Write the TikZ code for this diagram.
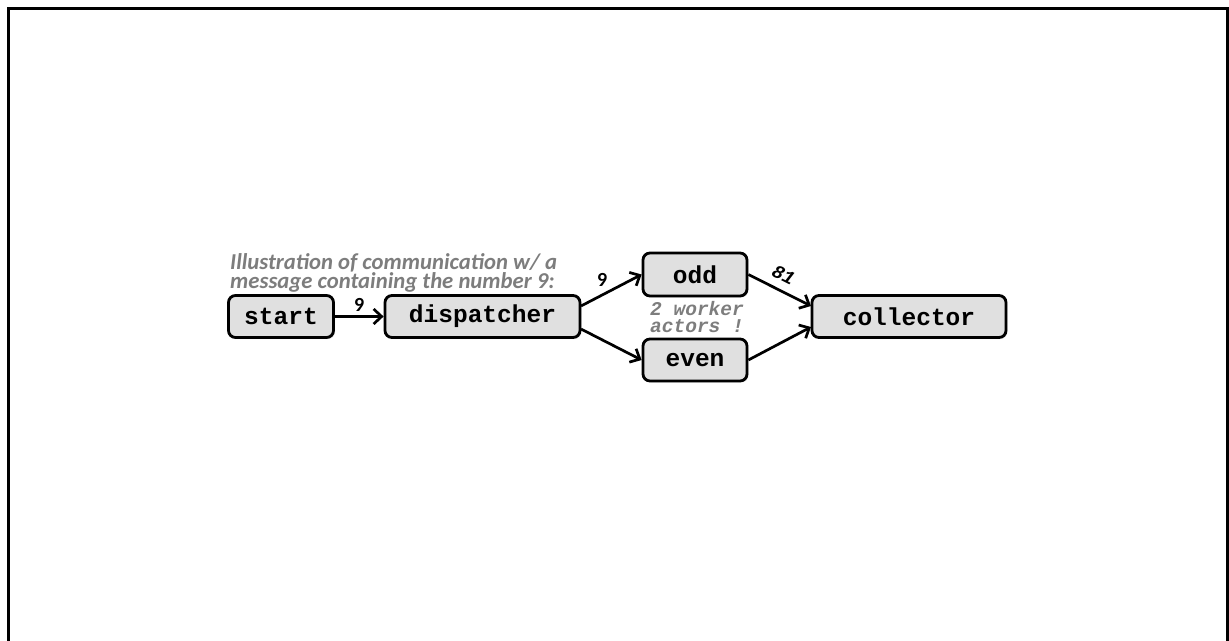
\documentclass[tikz,border=0pt]{standalone}
\usepackage{fontspec}
\setmainfont{Carlito}
\newfontfamily\boxmono{Liberation Mono}
\usetikzlibrary{arrows.meta,shadows}
\definecolor{boxfill}{RGB}{224,224,224}
\definecolor{notegray}{RGB}{125,125,125}
\tikzset{
  actor/.style={draw=black, line width=2.8pt, fill=boxfill, rounded corners=7pt,
    inner sep=0pt, font=\boxmono\bfseries\fontsize{24.5}{26}\selectfont,
    drop shadow={opacity=0.2, shadow xshift=1.5pt, shadow yshift=-1.5pt}},
  conn/.style={line width=2.7pt, -{Straight Barb[length=8pt,width=15pt,line width=2.7pt]}},
  elabel/.style={font=\bfseries\fontsize{20}{22}\selectfont, inner sep=1pt},
}
\begin{document}
\begin{tikzpicture}[x=1pt,y=-1pt]
\useasboundingbox (0,0) rectangle (1229,640);
\begin{scope}
\clip (0,0) rectangle (1229,640);
\draw[line width=3pt] (8,8.5) rectangle (1227,660);
\end{scope}
% boxes
\node[actor, minimum width=105pt, minimum height=42pt] (start) at (281,316.5) {start};
\node[actor, minimum width=195pt, minimum height=42pt] (disp) at (482.5,316.5) {dispatcher};
\node[actor, minimum width=104pt, minimum height=43pt] (odd) at (695,274.5) {odd};
\node[actor, minimum width=104pt, minimum height=42pt] (even) at (695,360) {even};
\node[actor, minimum width=194pt, minimum height=42pt] (coll) at (909,316.5) {collector};
% annotation
\node[anchor=north west, align=left, text=notegray, inner sep=0pt,
  font=\bfseries\itshape\fontsize{22.7}{18.5}\selectfont] (note) at (230,253)
  {Illustration of communication w/ a\\message containing the number 9:};
\node[align=center, text=notegray, inner sep=0pt,
  font=\boxmono\bfseries\itshape\fontsize{19.5}{17}\selectfont] (workers) at (697,317)
  {2 worker\\actors !};
% connectors
\draw[conn] (start.east) -- (disp.west) node[elabel, midway, above=3pt] (l1) {9};
\coordinate (d1) at (581,306);
\coordinate (d2) at (581,329);
\coordinate (c1) at (811,306);
\coordinate (c2) at (811,327);
\draw[conn] (d1) -- (odd.west) node[elabel, pos=0.35, above=6pt] (l2) {9};
\draw[conn] (d2) -- (even.west);
\draw[conn] (odd.east) -- (c1) node[pos=0.45, above=7pt, sloped, font=\boxmono\bfseries\itshape\fontsize{19}{20}\selectfont, inner sep=1pt] (l3) {81};
\draw[conn] (even.east) -- (c2);
\end{tikzpicture}
\end{document}
